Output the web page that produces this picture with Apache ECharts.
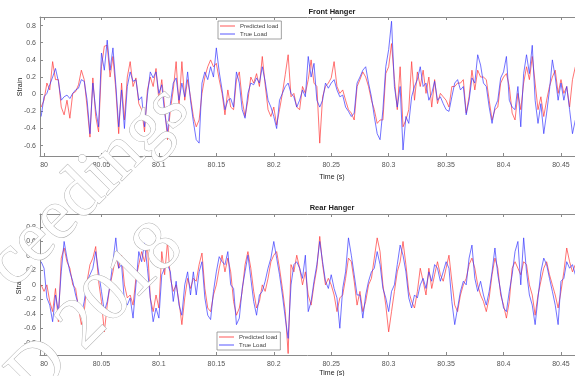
<!DOCTYPE html>
<html><head><meta charset="utf-8">
<script src="https://cdn.jsdelivr.net/npm/echarts@6/dist/echarts.min.js"></script>
<style>html,body{margin:0;padding:0;background:#fff}#c{width:575px;height:376px}</style>
</head><body><div id="c"></div>
<script>
// sampling of the time axis (s)
const t0 = 79.9975, dt = 0.0025;
const xTicks = [80, 80.05, 80.1, 80.15, 80.2, 80.25, 80.3, 80.35, 80.4, 80.45];
const yTicksFront = [-0.6, -0.4, -0.2, 0, 0.2, 0.4, 0.6, 0.8];
const yTicksRear = [-0.8, -0.6, -0.4, -0.2, 0, 0.2, 0.4, 0.6, 0.8];
const seriesNames = ['Predicted load', 'True Load'];

const frontTrue = [
-0.26,-0.03,0.01,0.11,0.2,0.3,0.15,-0.07,-0.03,-0.01,
-0.05,0.01,0.05,0.07,0.17,0.15,-0.07,-0.46,0.13,-0.18,
-0.38,0.48,0.28,0.63,0.28,0.54,0.11,-0.38,0.05,-0.4,
0.09,0.26,0.15,0.17,-0.07,-0.03,-0.38,-0.01,0.26,0.19,
0.26,0.01,0.11,-0.22,-0.44,-0.11,0.13,0.19,-0.07,0.13,
-0.03,0.26,-0.07,-0.32,-0.53,-0.57,0.13,0.26,0.17,0.32,
0.2,0.54,0.26,0.05,-0.18,-0.07,-0.05,-0.15,0.26,0.13,
-0.18,-0.28,0.01,0.13,0.11,0.19,0.13,0.32,0.15,-0.07,
-0.15,-0.26,-0.4,-0.07,0.01,0.09,0.13,0.01,-0.03,-0.15,
-0.07,0.05,-0.03,0.44,0.2,0.36,-0.07,-0.15,-0.07,0.13,
0.07,0.13,0.17,0.05,-0.03,-0.01,-0.15,-0.2,-0.26,-0.22,
0.13,0.2,0.28,0.32,0.13,-0.03,-0.26,-0.46,-0.53,-0.18,
0.32,0.52,0.85,0.09,-0.15,0.09,-0.65,-0.26,-0.34,-0.03,
0.09,0.17,0.32,0.09,0.13,-0.07,0.01,0.15,-0.07,-0.03,
-0.11,-0.18,-0.2,-0.03,0.13,0.17,0.05,0.09,-0.24,-0.07,
0.19,0.13,0.46,0.34,0.13,0.09,-0.15,-0.34,-0.15,-0.07,
0.19,0.26,0.44,-0.07,-0.15,-0.18,0.09,-0.38,0.24,0.46,
0.24,0.57,-0.07,-0.34,-0.11,-0.46,-0.22,0.05,0.4,0.2,
-0.07,0.13,-0.07,0.09,-0.18,-0.46,-0.3];

const frontPred = [
-0.15,-0.07,0.13,0.05,0.38,0.17,0.17,-0.15,-0.24,-0.07,
-0.28,0.01,0.03,0.11,0.28,0.17,-0.15,-0.5,0.19,-0.26,
-0.44,0.32,0.56,0.57,0.2,0.44,0.05,-0.46,0.13,-0.3,
0.2,0.38,0.09,0.19,-0.11,-0.18,-0.44,0.05,0.2,0.09,
0.3,-0.07,0.17,-0.15,-0.53,-0.18,0.05,0.38,-0.15,0.38,
-0.07,0.17,-0.03,-0.26,-0.38,-0.3,0.01,0.2,0.32,0.4,
0.32,0.36,0.17,0.01,-0.24,0.05,-0.15,-0.18,0.17,0.26,
-0.07,-0.26,-0.07,0.2,0.13,0.24,0.09,0.44,0.11,-0.18,
-0.26,-0.15,-0.36,-0.18,0.01,0.23,0.46,-0.03,0.01,-0.15,
-0.18,0.09,0.01,0.17,0.4,0.13,0.09,-0.57,-0.03,0.09,
0.13,0.19,0.38,0.09,0.01,0.05,-0.07,-0.18,-0.22,-0.3,
0.09,0.17,0.26,0.2,0.09,-0.07,-0.18,-0.34,-0.3,-0.3,
0.24,0.32,0.59,0.17,-0.18,0.32,-0.38,-0.3,-0.18,0.38,
-0.07,0.26,0.09,0.28,0.01,0.2,-0.15,0.17,-0.11,0.01,
-0.03,-0.07,-0.15,0.09,0.09,0.13,0.13,0.17,-0.22,-0.03,
0.28,0.05,0.28,0.2,0.2,0.17,-0.07,-0.3,-0.18,-0.15,
0.13,0.2,0.24,0.09,-0.22,-0.3,0.01,-0.18,0.13,0.32,
0.17,0.44,0.13,-0.18,-0.03,-0.26,-0.07,0.09,0.2,0.28,
0.01,0.17,0.01,0.09,-0.15,0.17,0.32];

const rearTrue = [
0.32,0.23,-0.18,-0.28,-0.51,-0.14,-0.37,0.18,0.6,0.37,
0.18,0.05,-0.14,-0.28,-0.42,-0.23,0.05,0.14,0.23,0.46,
0.18,-0.09,-0.37,-0.23,0,0.32,0.65,0.23,0.28,-0.23,
-0.28,-0.18,-0.46,0,0.46,0.32,0.58,0.23,-0.18,-0.51,
-0.32,-0.46,0.14,0.23,0.28,0.18,-0.23,0.05,-0.28,-0.42,
0,0.18,-0.14,0.18,-0.14,0.18,0.32,-0.18,-0.42,-0.48,
-0.09,0.18,0.39,0.32,0.28,0.46,0,-0.05,-0.55,-0.46,
-0.05,0.18,0.41,0.09,-0.23,-0.42,-0.14,-0.09,0.05,0.23,
0.37,0.6,0.37,0.14,-0.14,-0.46,-0.74,0,0.28,0.32,
0.23,0.09,0.41,-0.37,-0.23,0.05,0.28,0.6,0.32,0.05,
-0.05,0.14,-0.05,-0.18,-0.6,-0.05,0.18,0.65,0.41,0.14,
-0.14,-0.14,-0.46,-0.14,0.05,0.18,0.23,0.46,0.28,-0.05,
-0.18,-0.37,-0.09,0,0.28,0.55,0.41,0.18,-0.18,-0.32,
-0.14,-0.18,0,0.09,-0.05,0.18,0.05,0.28,0.23,0.05,
0.18,0.32,0.23,-0.23,-0.55,-0.32,-0.09,0.05,0,0.37,
0.55,0.09,-0.09,0.05,-0.14,-0.28,-0.09,0.18,0.51,0.14,
-0.09,-0.32,-0.37,-0.09,0.14,0.46,0.6,0,0.65,0.18,
-0.14,-0.28,-0.55,-0.18,0.18,0.37,0.28,0.09,-0.09,-0.28,
-0.55,0.05,0.09,0.32,0.23,0.28,0.14];

const rearPred = [
0,-0.09,0,-0.23,-0.37,-0.05,-0.51,0.37,0.51,0.32,
0.23,0,-0.05,-0.32,-0.55,-0.37,0.05,0.28,0.37,0.53,
0.05,-0.23,-0.65,-0.28,0,0.18,0.41,0.23,0.41,0,
-0.18,-0.14,-0.28,0.09,0.28,0.46,0.32,0.55,-0.18,-0.37,
-0.14,-0.32,0.46,0.14,0.6,0.09,-0.09,0,-0.23,-0.55,
-0.18,0.09,-0.05,0.09,0.05,0.28,0.44,-0.05,-0.32,-0.37,
-0.14,0,0.23,0.41,0.18,0.37,0.18,-0.23,-0.42,-0.32,
-0.09,0.28,0.46,0.23,-0.09,-0.32,-0.23,0,-0.09,0.09,
0.32,0.41,0.46,0.23,-0.05,-0.37,-0.95,0.28,0.18,0.41,
0.23,0,0.18,-0.14,-0.28,0,0.23,0.67,0.28,0,
0.09,0,-0.14,-0.37,-0.18,-0.14,0.09,0.37,0.32,0.05,
-0.28,-0.09,-0.37,-0.23,0,0.09,0.37,0.65,0.46,0,
-0.28,-0.65,-0.37,-0.09,0.18,0.32,0.6,0.28,-0.09,-0.23,
-0.32,-0.09,0.23,0.05,-0.14,0.23,-0.05,0.14,0.32,0.14,
0.05,0.23,0.41,0.05,-0.28,-0.37,-0.14,0,0.09,0.28,
0.37,0.23,0,-0.14,-0.23,-0.37,-0.18,0.14,0.37,0.23,
-0.14,-0.28,-0.46,-0.23,0.23,0.32,0.23,0.14,0.32,0.28,
0,-0.14,-0.42,-0.14,0.05,0.23,0.32,0.14,0,-0.14,
-0.32,-0.09,0.18,0.51,0.32,0.18,0.28];

const times = frontTrue.map((_, i) => +(t0 + i * dt).toFixed(4));
const pairs = arr => arr.map((v, i) => [times[i], v]);

const FONT = 'Liberation Sans';
const AX = '#8a8a8a';
const RED = 'rgba(255,55,55,0.7)';
const BLUE = 'rgba(55,55,255,0.7)';
const X_MIN = 79.9965, X_MAX = 80.4622;

function xAxisBottom(gi) {
  return {
    type: 'value', gridIndex: gi, min: X_MIN, max: X_MAX, position: 'bottom',
    splitLine: {show: false},
    axisLine: {show: true, onZero: false, lineStyle: {color: AX, width: 1}},
    axisTick: {show: true, inside: true, length: 3, customValues: xTicks, lineStyle: {color: AX}},
    axisLabel: {show: true, customValues: xTicks, margin: 6, fontSize: 7, color: '#555', fontFamily: FONT,
      formatter: v => String(+(+v).toFixed(2))}
  };
}
function xAxisTop(gi) {
  return {
    type: 'value', gridIndex: gi, min: X_MIN, max: X_MAX, position: 'top',
    splitLine: {show: false},
    axisLine: {show: true, onZero: false, lineStyle: {color: AX, width: 1}},
    axisTick: {show: true, inside: true, length: 3, customValues: xTicks, lineStyle: {color: AX}},
    axisLabel: {show: false}
  };
}
function yAxis(gi, mn, mx, ticks) {
  return {
    type: 'value', gridIndex: gi, min: mn, max: mx,
    splitLine: {show: false},
    axisLine: {show: true, onZero: false, lineStyle: {color: AX, width: 1}},
    axisTick: {show: true, inside: true, length: 3, customValues: ticks, lineStyle: {color: AX}},
    axisLabel: {show: true, customValues: ticks, margin: 4, fontSize: 7, color: '#555', fontFamily: FONT,
      formatter: v => String(+(+v).toFixed(1))}
  };
}
function line(name, data, xi, yi, color) {
  return {
    type: 'line', name: name, data: pairs(data), xAxisIndex: xi, yAxisIndex: yi,
    showSymbol: false, symbol: 'none', animation: false,
    lineStyle: {color: color, width: 1}, itemStyle: {color: color}
  };
}
function legend(left, top) {
  return {
    left: left, top: top, orient: 'vertical', data: seriesNames, icon: 'rect',
    itemWidth: 15, itemHeight: 1.2, itemGap: 2, padding: [2, 3, 2, 2],
    borderColor: '#8a8a8a', borderWidth: 0.8, backgroundColor: '#fff',
    selectedMode: false,
    textStyle: {fontSize: 6, color: '#444', fontFamily: FONT}
  };
}
function label(text, x, y, opts) {
  return Object.assign({type: 'text', x: x, y: y, z: 5,
    style: {text: text, textAlign: 'center', textVerticalAlign: 'middle', fill: '#222',
      font: (opts && opts.font) || ('7px ' + FONT)}}, opts && opts.rotation ? {rotation: opts.rotation} : {});
}
const WM = {fill: '#ffffff', stroke: '#b0b0b0', lineWidth: 1, font: "72px 'Liberation Serif'"};

const chart = echarts.init(document.getElementById('c'), null, {renderer: 'canvas'});
chart.setOption({
  backgroundColor: '#fff',
  animation: false,
  grid: [
    {left: 40, top: 17, width: 535, height: 139},
    {left: 40, top: 214, width: 535, height: 141}
  ],
  xAxis: [xAxisBottom(0), xAxisTop(0), xAxisBottom(1), xAxisTop(1)],
  yAxis: [yAxis(0, -0.72, 0.9, yTicksFront), yAxis(1, -0.97, 0.98, yTicksRear)],
  legend: [legend(218, 21), legend(217, 332)],
  series: [
    line(seriesNames[0], frontPred, 0, 0, RED),
    line(seriesNames[1], frontTrue, 0, 0, BLUE),
    line(seriesNames[0], rearPred, 2, 1, RED),
    line(seriesNames[1], rearTrue, 2, 1, BLUE)
  ],
  graphic: {elements: [
    label('Front Hanger', 332, 12, {font: 'bold 7.5px ' + FONT}),
    label('Time (s)', 332, 177),
    label('Strain', 20, 87, {rotation: Math.PI / 2}),
    label('Rear Hanger', 332, 208, {font: 'bold 7.5px ' + FONT}),
    label('Time (s)', 332, 373),
    label('Strain', 19, 285, {rotation: Math.PI / 2}),
    {type: 'text', x: 89, y: 187, rotation: Math.PI / 4, z: 100,
      style: Object.assign({text: 'ceedings', textAlign: 'center', textVerticalAlign: 'middle'}, WM)},
    {type: 'text', x: 172, y: 236, rotation: Math.PI / 4, z: 100,
      style: Object.assign({text: 'D 2018', textAlign: 'right', textVerticalAlign: 'middle'}, WM)}
  ]}
});
</script>
</body></html>
